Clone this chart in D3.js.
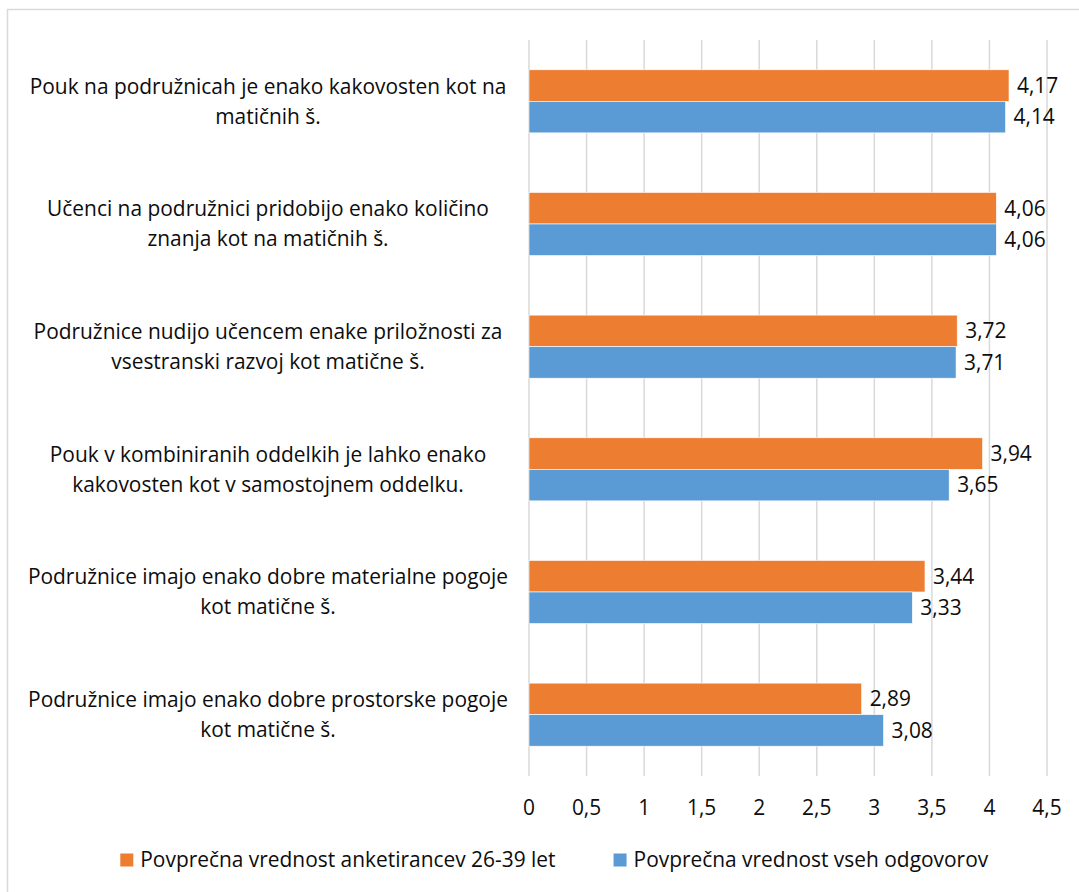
<!DOCTYPE html>
<html>
<head>
<meta charset="utf-8">
<script src="https://cdn.jsdelivr.net/npm/d3@7"></script>
<style>
  html, body { margin: 0; padding: 0; background: #fff; }
  #chart { width: 1079px; height: 892px; }
  text { font-family: "Open Sans", "Noto Sans", sans-serif; fill: #0d0d0d; }
</style>
</head>
<body>
<div id="chart"></div>
<script>
// Data
const categories = [
    "Pouk na podružnicah je enako kakovosten kot na\nmatičnih š.",
    "Učenci na podružnici pridobijo enako količino\nznanja kot na matičnih š.",
    "Podružnice nudijo učencem enake priložnosti za\nvsestranski razvoj kot matične š.",
    "Pouk v kombiniranih oddelkih je lahko enako\nkakovosten kot v samostojnem oddelku.",
    "Podružnice imajo enako dobre materialne pogoje\nkot matične š.",
    "Podružnice imajo enako dobre prostorske pogoje\nkot matične š."
];
const seriesNames = ["Povprečna vrednost anketirancev 26-39 let", "Povprečna vrednost vseh odgovorov"];
const values2639 = [4.17, 4.06, 3.72, 3.94, 3.44, 2.89];
const valuesAll = [4.14, 4.06, 3.71, 3.65, 3.33, 3.08];
const xTicks = [0, 0.5, 1, 1.5, 2, 2.5, 3, 3.5, 4, 4.5];
const seriesColors = ["#ED7D31", "#5B9BD5"];

try {
    const width = 1079;
    const height = 892;
    const plot = { left: 529, right: 1047, top: 40, bottom: 776 };

    const svg = d3.select("#chart")
        .append("svg")
        .attr("width", width)
        .attr("height", height);

    // Fit font size so the first label line is as wide as in the picture (~477px)
    const probe = svg.append("text").style("font-size", "20px").text(categories[0].split("\n")[0]);
    const fontSize = 20 * 477 / probe.node().getComputedTextLength();
    probe.remove();

    const locale = d3.formatLocale({ decimal: ",", thousands: ".", grouping: [3], currency: ["", " €"] });
    const fmtValue = locale.format(".2f");
    const fmtTick = locale.format(".1~f");

    // Frame (only top/left visible in the crop)
    svg.append("rect")
        .attr("x", 7.5)
        .attr("y", 9.5)
        .attr("width", width + 20)
        .attr("height", height + 20)
        .attr("fill", "none")
        .attr("stroke", "#d9d9d9")
        .attr("stroke-width", 1.5);

    const x = d3.scaleLinear().domain([0, 4.5]).range([plot.left, plot.right]);
    const y = d3.scaleBand()
        .domain(categories)
        .range([plot.top, plot.bottom])
        .paddingInner(0.486)
        .paddingOuter(0.243);
    const ySub = d3.scaleBand().domain([0, 1]).range([0, y.bandwidth()]);

    // Gridlines
    svg.append("g")
        .selectAll("line")
        .data(xTicks)
        .enter()
        .append("line")
        .attr("x1", d => x(d))
        .attr("x2", d => x(d))
        .attr("y1", plot.top)
        .attr("y2", plot.bottom)
        .attr("stroke", "#d9d9d9")
        .attr("stroke-width", 1.5);

    // Tick labels
    svg.append("g")
        .selectAll("text")
        .data(xTicks)
        .enter()
        .append("text")
        .attr("x", d => x(d))
        .attr("y", 808)
        .attr("dy", "0.35em")
        .attr("text-anchor", "middle")
        .style("font-size", fontSize + "px")
        .text(d => fmtTick(d));

    // Bars
    const rows = categories.map((c, i) => ({ cat: c, vals: [values2639[i], valuesAll[i]] }));
    const group = svg.append("g")
        .selectAll("g")
        .data(rows)
        .enter()
        .append("g")
        .attr("transform", d => `translate(0, ${y(d.cat)})`);

    group.selectAll("rect")
        .data(d => d.vals.map((v, s) => ({ v, s })))
        .enter()
        .append("rect")
        .attr("x", x(0))
        .attr("y", d => ySub(d.s))
        .attr("width", d => x(d.v) - x(0))
        .attr("height", ySub.bandwidth())
        .attr("fill", d => seriesColors[d.s])
        .attr("stroke", "#fff")
        .attr("stroke-width", 0.6);

    group.selectAll("text.val")
        .data(d => d.vals.map((v, s) => ({ v, s })))
        .enter()
        .append("text")
        .attr("class", "val")
        .attr("x", d => x(d.v) + 8)
        .attr("y", d => ySub(d.s) + ySub.bandwidth() / 2)
        .attr("dy", "0.35em")
        .style("font-size", fontSize + "px")
        .text(d => fmtValue(d.v));

    // Category labels
    const catLabel = svg.append("g")
        .selectAll("text")
        .data(categories)
        .enter()
        .append("text")
        .attr("text-anchor", "middle")
        .style("font-size", fontSize + "px");

    catLabel.each(function(d) {
        const lines = d.split("\n");
        const cy = y(d) + y.bandwidth() / 2;
        const lh = 30;
        lines.forEach((ln, i) => {
            d3.select(this).append("tspan")
                .attr("x", 268)
                .attr("y", cy + (i - (lines.length - 1) / 2) * lh)
                .attr("dy", "0.35em")
                .text(ln);
        });
    });

    // Legend
    const legend = svg.append("g");
    const items = legend.selectAll("g")
        .data(seriesNames)
        .enter()
        .append("g");
    items.append("rect")
        .attr("width", 13)
        .attr("height", 13)
        .attr("y", -6.5)
        .attr("fill", (d, i) => seriesColors[i]);
    items.append("text")
        .attr("x", 20)
        .attr("dy", "0.35em")
        .style("font-size", fontSize + "px")
        .text(d => d);

    let cursor = 0;
    const gap = 58;
    items.each(function() {
        const w = this.getBBox().width;
        d3.select(this).attr("data-x", cursor);
        cursor += w + gap;
    });
    const total = cursor - gap;
    const startX = 554.5 - total / 2;
    items.attr("transform", function() {
        return `translate(${startX + (+this.getAttribute("data-x"))}, 860)`;
    });
} catch (error) {
    console.error(error);
    document.getElementById("chart").innerHTML = `<p style="color:red">Error: ${error.message}</p>`;
}
</script>
</body>
</html>
